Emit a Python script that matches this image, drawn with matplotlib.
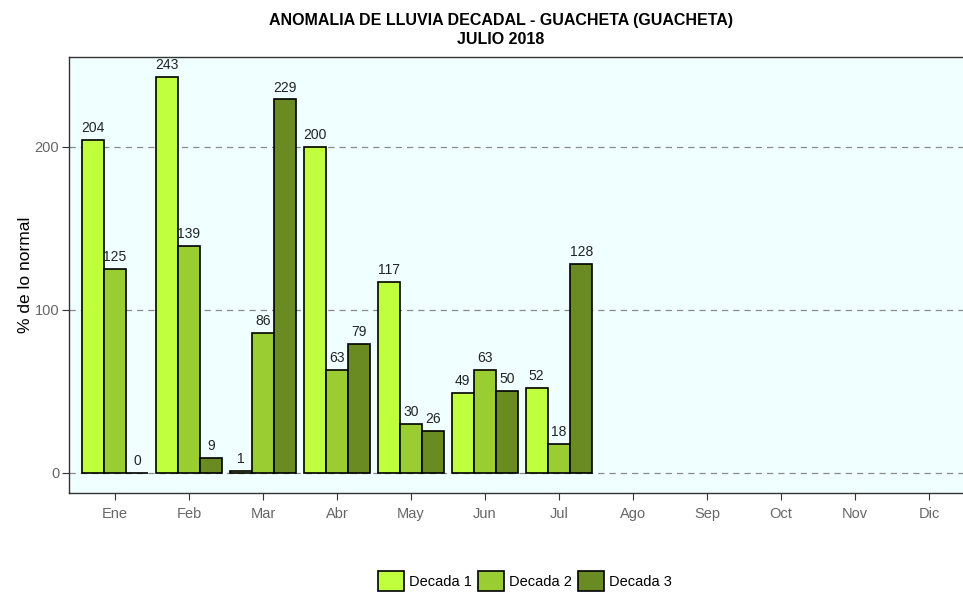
import numpy as np
import matplotlib.pyplot as plt

# Data
meses = ['Ene', 'Feb', 'Mar', 'Abr', 'May', 'Jun', 'Jul', 'Ago', 'Sep', 'Oct', 'Nov', 'Dic']
decada1 = [204, 243, 1, 200, 117, 49, 52]
decada2 = [125, 139, 86, 63, 30, 63, 18]
decada3 = [0, 9, 229, 79, 26, 50, 128]

series = [('Decada 1', decada1, '#C0FF3E'),
          ('Decada 2', decada2, '#9ACD32'),
          ('Decada 3', decada3, '#698B22')]

plt.rcParams['font.family'] = ['Liberation Sans', 'DejaVu Sans']

fig = plt.figure(figsize=(9.63, 5.94), dpi=100)
ax = fig.add_axes([69/963, 101/594, 1 - 69/963, 436/594])
ax.set_facecolor('#F0FFFF')

width = 0.3
for i, (name, vals, color) in enumerate(series):
    x = np.arange(len(vals)) + (i - 1) * width
    ax.bar(x, vals, width, color=color, edgecolor='black', linewidth=1.2,
           label=name, zorder=3)
    for xi, v in zip(x, vals):
        ax.text(xi, v + 3, str(v), ha='center', va='bottom', fontsize=10,
                color='#222222', zorder=4)

# dashed grid lines
for y in [0, 100, 200]:
    ax.axhline(y, color='#8a8a8a', linestyle=(0, (5, 4)), linewidth=0.9, zorder=1)

ax.set_xlim(-0.62, (963 - 115) / 74)
ax.set_ylim(-12.3, 255)
ax.set_xticks(range(len(meses)))
ax.set_xticklabels(meses)
ax.set_yticks([0, 100, 200])
ax.tick_params(axis='both', colors='#333333', labelcolor='#666666', labelsize=10.5,
               length=5, width=0.8)
ax.tick_params(axis='x', pad=5)
ax.tick_params(axis='y', pad=2)

ax.spines['right'].set_visible(False)
for s in ['left', 'bottom', 'top']:
    ax.spines[s].set_color('#333333')
    ax.spines[s].set_linewidth(1.0)

fig.text(25/963, 1 - 275/594, '% de lo normal', rotation=90, ha='center',
         va='center', fontsize=12.5, color='black')

fig.text(501/963, 1 - 20/594, 'ANOMALIA DE LLUVIA DECADAL - GUACHETA (GUACHETA)',
         ha='center', va='center', fontsize=11.5, fontweight='bold')
fig.text(501/963, 1 - 40/594, 'JULIO 2018', ha='center', va='center',
         fontsize=11.5, fontweight='bold')

fig.legend(loc='center', bbox_to_anchor=(525/963, 1 - 581/594), ncol=3,
           frameon=False, fontsize=10.5, handlelength=1.8, handleheight=1.8,
           handletextpad=0.35, columnspacing=0.4, borderpad=0)

fig.savefig('out.png', dpi=100)
